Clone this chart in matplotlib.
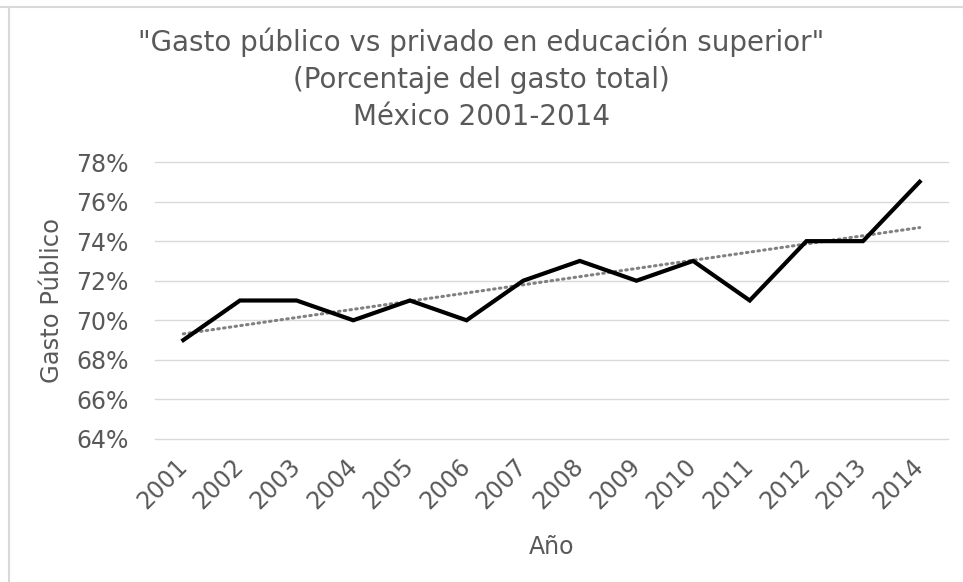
import numpy as np
import matplotlib.pyplot as plt
from matplotlib.lines import Line2D
from matplotlib.ticker import FuncFormatter

years = ['2001', '2002', '2003', '2004', '2005', '2006', '2007',
         '2008', '2009', '2010', '2011', '2012', '2013', '2014']
gasto_publico = [69, 71, 71, 70, 71, 70, 72, 73, 72, 73, 71, 74, 74, 77]

title = ('"Gasto público vs privado en educación superior"\n'
         '(Porcentaje del gasto total)\n'
         'México 2001-2014')

W, H = 963, 582
fig = plt.figure(figsize=(W / 100, H / 100), dpi=100)
ax = fig.add_axes([155 / W, 1 - 439 / H, (948 - 155) / W, (439 - 162) / H])

x = np.arange(len(years))
y = np.array(gasto_publico, dtype=float)

# linear trend line like the spreadsheet's
slope, intercept = np.polyfit(x, y, 1)
ax.plot(x, slope * x + intercept, color='#808080', lw=2.2,
        linestyle=(0, (0.5, 1.4)), dash_capstyle='round', zorder=3)
ax.plot(x, y, color='black', lw=3.0, solid_joinstyle='miter', zorder=4)

ax.set_xlim(-0.5, len(years) - 0.5)
ax.set_ylim(64, 78)
ax.set_yticks(np.arange(64, 79, 2))
ax.yaxis.set_major_formatter(FuncFormatter(lambda v, p: f'{v:.0f}%'))
ax.set_xticks(x)
ax.set_xticklabels(years, rotation=45, ha='right', va='center',
                   rotation_mode='anchor')

grey = '#595959'
ax.grid(axis='y', color='#d9d9d9', lw=1.0)
for gl in ax.get_ygridlines():
    gl.set_clip_on(False)
ax.set_axisbelow(True)
for s in ax.spines.values():
    s.set_visible(False)
ax.tick_params(length=0, colors=grey, labelsize=17)
ax.tick_params(axis='y', pad=19)
ax.tick_params(axis='x', pad=17)

ax.set_xlabel('Año', fontsize=17, color=grey, labelpad=15)
ax.set_ylabel('Gasto Público', fontsize=17.5, color=grey, labelpad=9)

fig.text(0.5, 1 - 79 / H, title, ha='center', va='center', fontsize=20,
         color=grey, linespacing=1.4)

# chart border (top and left visible)
fig.add_artist(Line2D([0, 1], [1 - 6.5 / H] * 2, color='#d9d9d9', lw=1.5,
                      transform=fig.transFigure))
fig.add_artist(Line2D([8.5 / W] * 2, [0, 1 - 6.5 / H], color='#d9d9d9', lw=1.5,
                      transform=fig.transFigure))

fig.savefig('out.png', dpi=100, facecolor='white')
